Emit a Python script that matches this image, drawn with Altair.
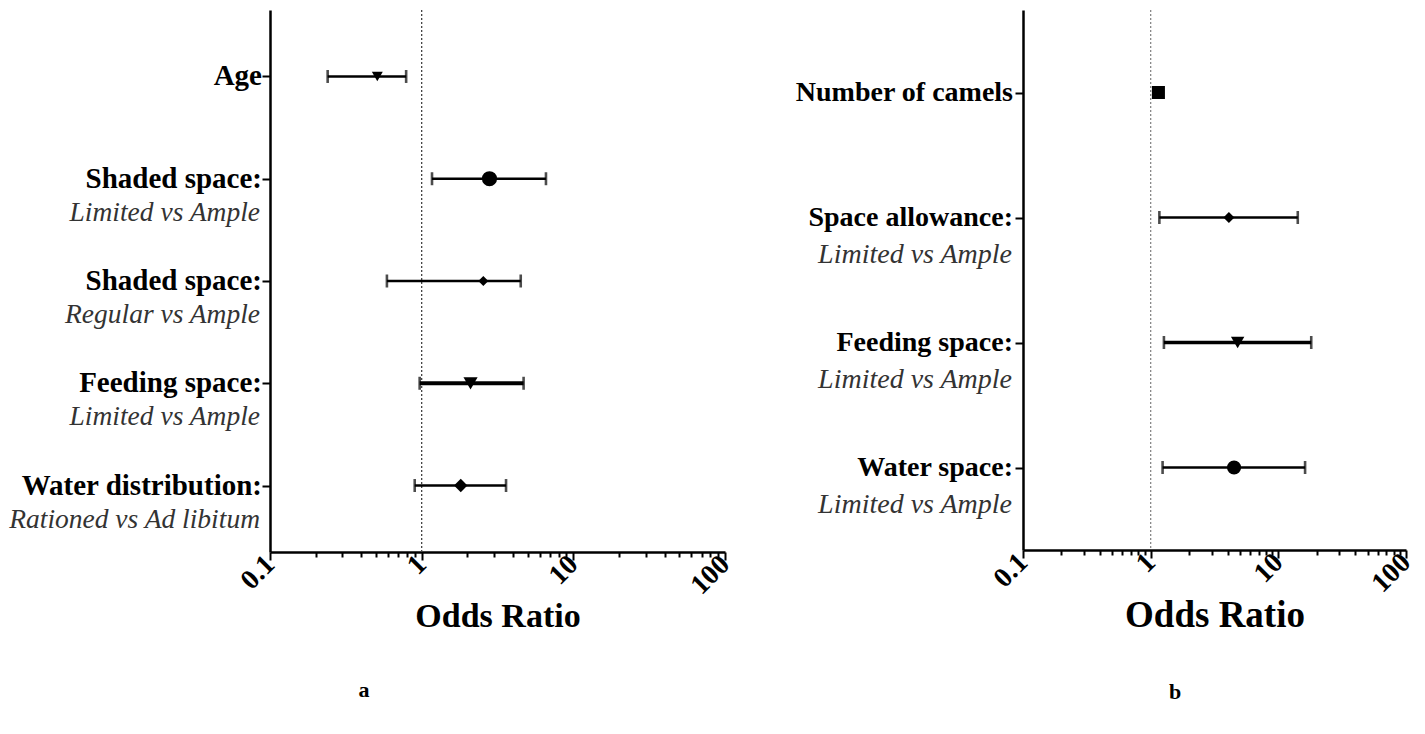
import altair as alt
import pandas as pd

# ---------------- data ----------------
# Panel a
labels_a = ["Age", "Shaded space:", "Shaded space:", "Feeding space:", "Water distribution:"]
subs_a = ["", "Limited vs Ample", "Regular vs Ample", "Limited vs Ample", "Rationed vs Ad libitum"]
or_a = [0.51, 2.80, 2.55, 2.10, 1.81]
lo_a = [0.24, 1.17, 0.59, 0.97, 0.90]
hi_a = [0.79, 6.6, 4.5, 4.7, 3.6]

# Panel b
labels_b = ["Number of camels", "Space allowance:", "Feeding space:", "Water space:"]
subs_b = ["", "Limited vs Ample", "Limited vs Ample", "Limited vs Ample"]
or_b = [1.15, 4.1, 4.8, 4.5]
lo_b = [1.09, 1.17, 1.27, 1.24]
hi_b = [1.21, 14.2, 18.1, 16.2]

tick_values = [0.1, 0.2, 0.3, 0.4, 0.5, 0.6, 0.7, 0.8, 0.9,
               1, 2, 3, 4, 5, 6, 7, 8, 9,
               10, 20, 30, 40, 50, 60, 70, 80, 90, 100]
reference_value = [1]
panel_letters = ["a", "b"]

# marker styles (kept apart from the data)
shapes_a = ["triangle-down", "circle", "diamond", "triangle-down", "diamond"]
sizes_a = [120, 230, 100, 200, 180]
widths_a = [2.4, 2.4, 2.4, 3.8, 2.4]
shapes_b = ["square", "diamond", "triangle-down", "circle"]
sizes_b = [170, 120, 180, 200]
widths_b = [2.4, 2.4, 3.4, 2.4]

FONT = "Liberation Serif"
MAJOR_TEST = "abs(log(datum.value)/LN10 - round(log(datum.value)/LN10)) < 0.001"


def panel(labels, subs, ors, los, his, shapes, sizes, widths, W, H, pad,
          lab_size, sub_size, lab_x, sub_x, sub_dy, title_size, ref_color,
          letter, letter_x, letter_y):
    df = pd.DataFrame({
        "row": list(range(len(labels))),
        "label": labels, "sub": subs,
        "or": ors, "lo": los, "hi": his,
        "shape": shapes, "size": sizes, "sw": widths,
    })
    xscale = alt.Scale(type="log", domain=[0.1, 100], nice=False)
    yscale = alt.Scale(type="point", padding=pad)
    yenc = alt.Y("row:O", scale=yscale,
                 axis=alt.Axis(labels=False, title=None, domainWidth=2.5, domainColor="black",
                               tickColor="black", tickWidth=2, tickSize=8))
    xaxis = alt.Axis(values=tick_values, title="Odds Ratio",
                     labelExpr="(" + MAJOR_TEST + ") ? format(datum.value, '~g') : ''",
                     labelAngle=-45, labelAlign="right", labelBaseline="middle",
                     labelFont=FONT, labelFontWeight="bold", labelFontSize=28,
                     labelColor="black", labelOverlap=False, labelFlush=False,
                     labelPadding=0, labelBound=False,
                     tickSize={"condition": {"test": MAJOR_TEST, "value": 8}, "value": 5},
                     tickWidth=2, tickColor="black", domainWidth=2.5, domainColor="black",
                     titleFont=FONT, titleFontWeight="bold", titleFontSize=title_size,
                     titleColor="black", titlePadding=0, grid=False)

    base = alt.Chart(df)
    ref = alt.Chart(pd.DataFrame({"ref": reference_value})).mark_rule(
        strokeDash=[2, 2], strokeWidth=1.3, color=ref_color
    ).encode(x=alt.X("ref:Q", scale=xscale, axis=xaxis))

    bars = base.mark_rule(color="black").encode(
        x=alt.X("lo:Q", scale=xscale), x2="hi:Q", y=yenc,
        strokeWidth=alt.StrokeWidth("sw:Q", scale=None))
    caps_lo = base.mark_tick(color="black", size=13, thickness=2.6, orient="vertical").encode(
        x=alt.X("lo:Q", scale=xscale), y=yenc)
    caps_hi = base.mark_tick(color="black", size=13, thickness=2.6, orient="vertical").encode(
        x=alt.X("hi:Q", scale=xscale), y=yenc)
    pts = base.mark_point(filled=True, color="black", opacity=1).encode(
        x=alt.X("or:Q", scale=xscale), y=yenc,
        shape=alt.Shape("shape:N", scale=None),
        size=alt.Size("size:Q", scale=None))

    lab = base.mark_text(align="right", baseline="middle", font=FONT, fontWeight="bold",
                         fontSize=lab_size, color="black").encode(
        x=alt.value(lab_x), y=yenc, text="label:N")
    sub = base.mark_text(align="right", baseline="middle", font=FONT, fontStyle="italic",
                         fontSize=sub_size, color="#333333", dy=sub_dy).encode(
        x=alt.value(sub_x), y=yenc, text="sub:N")
    let = alt.Chart(pd.DataFrame({"t": [letter]})).mark_text(
        font=FONT, fontWeight="bold", fontSize=22, color="black", baseline="middle").encode(
        x=alt.value(letter_x), y=alt.value(letter_y), text="t:N")

    return alt.layer(ref, bars, caps_lo, caps_hi, pts, lab, sub, let).properties(width=W, height=H)


pa = panel(labels_a, subs_a, or_a, lo_a, hi_a, shapes_a, sizes_a, widths_a,
           W=455, H=542, pad=0.65, lab_size=29, sub_size=27.5, lab_x=-8, sub_x=-10,
           sub_dy=34, title_size=34, ref_color="#444444",
           letter=panel_letters[0], letter_x=94, letter_y=680)
pb = panel(labels_b, subs_b, or_b, lo_b, hi_b, shapes_b, sizes_b, widths_b,
           W=383, H=540, pad=0.66, lab_size=28, sub_size=28, lab_x=-10, sub_x=-11,
           sub_dy=37, title_size=37, ref_color="#888888",
           letter=panel_letters[1], letter_x=152, letter_y=682)

chart = alt.hconcat(pa, pb, spacing=298, bounds="flush").properties(
    padding={"left": 0, "top": 1, "right": 0, "bottom": 0}
).configure_view(stroke=None).resolve_scale(y="independent", x="independent")

chart.save("out.html", embed_options={"renderer": "svg", "actions": False})
